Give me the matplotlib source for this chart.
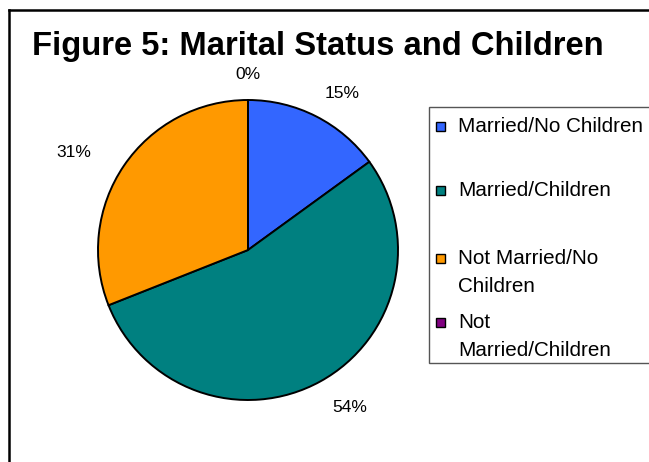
"""Figure 5 -- marital status and children, pie chart with an Excel-style side legend."""
import numpy as np
import matplotlib
matplotlib.use("Agg")
import matplotlib.pyplot as plt
from matplotlib.patches import Rectangle
from matplotlib.lines import Line2D

W_PX, H_PX = 649, 462

categories = ["Married/No Children", "Married/Children",
              "Not Married/No\nChildren", "Not\nMarried/Children"]
shares = [15, 54, 31, 0]
colors = ["#3366FF", "#008080", "#FF9900", "#800080"]

plt.rcParams["font.family"] = ["Liberation Sans", "DejaVu Sans"]


def fx(px):
    return px / W_PX


def fy(py):
    return 1.0 - py / H_PX


fig = plt.figure(figsize=(W_PX / 100, H_PX / 100), dpi=100)

# outer chart frame (right and bottom run off the picture)
fig.add_artist(Line2D([fx(9), fx(9)], [fy(10), fy(470)], color="black", lw=1.8))
fig.add_artist(Line2D([fx(9), fx(660)], [fy(10), fy(10)], color="black", lw=1.8))

fig.text(fx(318), fy(46), "Figure 5: Marital Status and Children",
         ha="center", va="center", fontsize=23.6, fontweight="bold")

# pie: centre (248, 250) px, radius 150 px
ax = fig.add_axes([fx(98), fy(400), fx(300), 300 / H_PX])
wedges, _ = ax.pie(shares, colors=colors, startangle=90, counterclock=False,
                   wedgeprops=dict(edgecolor="black", linewidth=1.4))
ax.set_xlim(-1, 1)
ax.set_ylim(-1, 1)
ax.set_aspect("auto")
ax.axis("off")

label_r = [1.22, 1.25, 1.33, 1.17]
label_dang = [-4, 4, 5, 0]
for w, v, r, da in zip(wedges, shares, label_r, label_dang):
    ang = np.deg2rad(0.5 * (w.theta1 + w.theta2) + da)
    ax.text(r * np.cos(ang), r * np.sin(ang), f"{v:.0f}%",
            ha="center", va="center", fontsize=12.5, clip_on=False)

# legend box (right edge runs off the picture)
fig.add_artist(Rectangle((fx(429), fy(363)), fx(240), (363 - 107) / H_PX,
                         transform=fig.transFigure, facecolor="white",
                         edgecolor="#555555", lw=1.0))
rows_px = [126, 190, 258, 322]
line_gap = 28
for name, col, y0 in zip(categories, colors, rows_px):
    fig.add_artist(Rectangle((fx(436), fy(y0 + 5)), fx(9), 9 / H_PX,
                             transform=fig.transFigure, facecolor=col,
                             edgecolor="black", lw=1.0))
    for k, line in enumerate(name.split("\n")):
        fig.text(fx(458), fy(y0 + k * line_gap), line,
                 ha="left", va="center", fontsize=14.9)

fig.savefig("out.png", dpi=100)
